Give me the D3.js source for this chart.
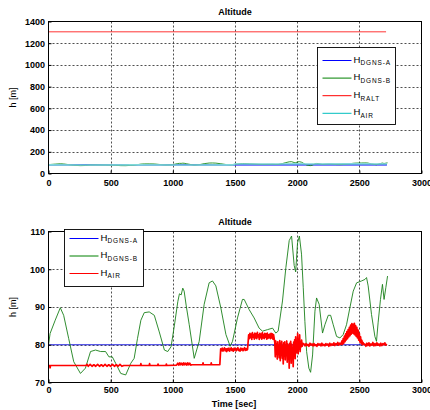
<!DOCTYPE html>
<html><head><meta charset="utf-8">
<script src="https://cdn.jsdelivr.net/npm/d3@7"></script>
<style>body{margin:0;background:#fff} svg{display:block;font-family:"Liberation Sans",Arial,sans-serif}</style>
</head><body><svg id="c" width="430" height="410"></svg>
<script>
// ---------- data ----------
const xTicks = [0, 500, 1000, 1500, 2000, 2500, 3000];
const topYTicks = [0, 200, 400, 600, 800, 1000, 1200, 1400];
const botYTicks = [70, 80, 90, 100, 110];

const dgnsA = [[0, 80], [2722, 80]];
const dgnsB = [[0,80],[13,83],[54,86.5],[95,89.8],[122,87.8],[162,81.7],[203,75.5],[257,72.4],[297,73.8],[338,78.2],[378,78.6],[419,78.2],[459,78.2],[486,76.8],[513,76.8],[540,75.1],[581,72.4],[621,72],[662,75.1],[689,76.4],[716,81.7],[743,86.5],[770,88.5],[810,88.7],[851,87.8],[891,83.4],[932,78.6],[959,78.2],[986,79.5],[1013,85.2],[1040,91.4],[1053,93.5],[1067,93.2],[1080,95],[1091,94.2],[1107,90.5],[1132,85.3],[1172,76.4],[1212,80.9],[1252,90.7],[1292,96.4],[1319,96.9],[1346,95.6],[1386,89.8],[1427,82.7],[1461,79.6],[1480,80.9],[1520,87.1],[1560,92],[1574,92],[1614,89.3],[1654,87.1],[1694,84.4],[1721,83.6],[1761,84],[1802,84.4],[1828,83.1],[1847,83.6],[1882,91.6],[1909,100.4],[1936,107.6],[1955,108.8],[1976,101],[1988,99.3],[2003,107],[2018,108.8],[2035,104],[2049,95.1],[2062,86.2],[2076,78.2],[2094,73.8],[2108,72.7],[2124,77.3],[2143,88.9],[2156,92.4],[2177,90.7],[2204,83.1],[2223,85.3],[2250,87.8],[2269,87.8],[2290,85.3],[2317,82.2],[2344,81.8],[2370,82.7],[2397,85.3],[2424,89.8],[2451,94.2],[2478,96.4],[2518,96.9],[2545,97.3],[2558,97.8],[2571,95.6],[2598,88],[2625,82.2],[2638,80.9],[2651,85.8],[2670,92],[2686,96],[2699,92],[2713,95.1],[2727,98.2]];
const ralt = [[0, 1305], [2715, 1305]];
const airTop = [[0,79],[300,78],[700,79],[1100,78],[1480,79],[1500,88],[1900,87],[2000,90],[2100,87],[2400,89],[2722,88]];

// H_AIR, low-altitude part (sampled points)
const airStart = [[0,74.5],[10,74.5],[13,73.9],[16,74.5],[300,74.5],[310,74.8],[320,74.3],[335,74.8],[350,74.3],[365,74.7],[380,74.3],[395,74.8],[410,74.3],[425,74.7],[440,74.3],[455,74.8],[470,74.3],[485,74.7],[500,74.3],[515,74.8],[530,74.3],[545,74.7],[560,74.3],[575,74.8],[590,74.3],[605,74.5],[740,74.5],[743,75.0],[746,74.5],[810,74.5],[813,75.0],[816,74.5],[878,74.5],[881,74.9],[884,74.5],[945,74.5],[948,74.9],[951,74.5],[1030,74.6],[1040,75.1],[1048,74.6],[1056,75.2],[1064,74.7],[1072,75.1],[1080,74.6],[1088,75.2],[1096,74.7],[1104,75.1],[1112,74.6],[1120,75.2],[1128,74.7],[1136,75.1],[1144,74.6],[1150,74.7],[1240,74.7],[1243,75.2],[1246,74.7],[1306,74.7],[1309,75.2],[1312,74.7],[1378,74.7]];
// H_AIR, uniformly sampled segments afterwards
const airSegStart = [1385, 1610, 1820, 2055, 2360, 2545];
const airSegStep = [6, 5, 4, 8, 5, 8];
const airSegB = [78.9,78.4,79.1,78.3,78.8,79.2,78.4,78.9,78.2,79.0,78.5,79.1,78.3,78.8,79.2,78.5,78.9,78.3,79.1,78.6,79.0,78.4,78.9,79.2,78.5,78.8,78.3,79.1,78.6,79.0,78.4,78.9,79.2,78.5,79.0,78.6,78.8];
const airSegC = [82.6,81.6,83.0,81.9,82.8,81.4,83.2,82.0,82.7,81.5,83.1,81.8,82.9,81.6,83.3,82.1,82.6,81.4,83.0,81.9,82.8,81.5,83.2,81.8,82.7,81.6,83.0,82.0,82.9,81.5,83.1,81.7,82.6,81.9,82.8,81.6,83.0,81.8,82.9,81.5,82.7];
const airSegD = [80.6,76.8,81.0,77.5,80.2,76.2,80.8,77.9,79.4,76.6,81.1,75.8,80.3,77.2,80.9,76.4,79.7,74.9,80.5,77.6,80.8,76.0,79.9,77.3,81.0,75.4,80.2,76.8,79.6,73.8,80.4,76.9,80.9,75.1,80.1,77.4,79.3,74.2,80.7,77.0,81.3,76.3,82.1,77.8,80.6,78.4,83.0,77.6,81.4,78.9,82.6,78.2,80.8,79.4,81.2,79.6,80.4];
const airSegE = [80.2,79.7,80.3,79.8,80.1,79.6,80.4,79.9,80.2,79.7,80.3,79.8,80.0,79.6,80.3,79.9,80.2,79.7,80.4,79.8,80.1,79.7,80.3,79.9,80.2,79.6,80.4,79.8,80.2,79.9,80.5,79.8,80.3,80.0,80.6,79.9,80.4,80.1];
const airSegF = [81.0,80.1,81.6,80.4,82.3,80.8,82.9,81.3,83.5,81.6,84.0,82.1,84.6,82.4,85.2,82.8,85.6,83.1,85.4,82.9,85.7,82.6,85.1,82.2,84.6,81.8,83.9,81.2,83.0,80.7,82.1,80.3,81.2,80.0,80.6,80.1];
const airSegG = [80.2,79.6,80.4,79.8,80.5,79.7,80.2,79.9,80.6,79.7,80.3,79.8,80.5,79.9,80.2,79.7,80.4,79.8,80.3,80.0,80.5,79.9,80.2];

const topLegend = [
  {sub: "DGNS-A", color: "#0000ff"},
  {sub: "DGNS-B", color: "#008000"},
  {sub: "RALT", color: "#ff0000"},
  {sub: "AIR", color: "#00bfbf"}
];
const botLegend = [
  {sub: "DGNS-A", color: "#0000ff"},
  {sub: "DGNS-B", color: "#008000"},
  {sub: "AIR", color: "#ff0000"}
];

// assemble H_AIR series
const airSegs = [airSegB, airSegC, airSegD, airSegE, airSegF, airSegG];
const air = airStart.slice();
airSegs.forEach((seg, i) => seg.forEach((v, j) => air.push([airSegStart[i] + j * airSegStep[i], v])));

// ---------- drawing ----------
const svg = d3.select("#c");
svg.append("rect").attr("width", 430).attr("height", 410).attr("fill", "#fff");

function panel(o) {
  const x = d3.scaleLinear().domain([0, 3000]).range([48.5, 421.5]);
  const y = d3.scaleLinear().domain(o.yDomain).range([o.bottom, o.top]);
  const g = svg.append("g");
  // grid
  g.selectAll(".gx").data(xTicks.slice(1, -1)).join("line")
    .attr("x1", d => Math.round(x(d)) + 0.5).attr("x2", d => Math.round(x(d)) + 0.5)
    .attr("y1", o.top).attr("y2", o.bottom)
    .attr("stroke", "#222").attr("stroke-dasharray", "2,2").attr("stroke-width", 0.8);
  g.selectAll(".gy").data(o.yTicks.slice(1, -1)).join("line")
    .attr("y1", d => Math.round(y(d)) + 0.5).attr("y2", d => Math.round(y(d)) + 0.5)
    .attr("x1", x(0)).attr("x2", x(3000))
    .attr("stroke", "#222").attr("stroke-dasharray", "2,2").attr("stroke-width", 0.8);
  // series
  const line = d3.line().x(d => x(d[0])).y(d => y(d[1]));
  o.series.forEach(s => {
    g.append("path").datum(s.data).attr("d", line).attr("fill", "none")
      .attr("stroke", s.color).attr("stroke-width", s.w).attr("stroke-linejoin", "round");
  });
  // axes
  const ax = g.append("g").attr("transform", `translate(0,${o.bottom})`)
    .call(d3.axisBottom(x).tickValues(xTicks).tickSizeInner(-3).tickSizeOuter(0).tickPadding(o.xPad).tickFormat(d3.format("d")));
  const ay = g.append("g").attr("transform", `translate(${x(0)},0)`)
    .call(d3.axisLeft(y).tickValues(o.yTicks).tickSizeInner(-3).tickSizeOuter(0).tickPadding(3.5).tickFormat(d3.format("d")));
  [ax, ay].forEach(a => {
    a.select(".domain").remove();
    a.selectAll("text").attr("font-family", '"Liberation Sans",Arial,sans-serif')
      .attr("font-size", 9).attr("font-weight", "bold").attr("fill", "#000");
    a.selectAll("line").attr("stroke", "#000");
  });
  // box
  g.append("rect").attr("x", x(0)).attr("y", o.top).attr("width", x(3000) - x(0)).attr("height", o.bottom - o.top)
    .attr("fill", "none").attr("stroke", "#000").attr("stroke-width", 1);
  // title
  g.append("text").attr("x", 235).attr("y", o.top - 7).attr("text-anchor", "middle")
    .attr("font-size", 9).attr("font-weight", "bold").text("Altitude");
  // y label
  g.append("text").attr("transform", `translate(16,${(o.top + o.bottom) / 2}) rotate(-90)`)
    .attr("text-anchor", "middle").attr("font-size", 9).text("h [m]");
  // legend
  const L = o.legend;
  const lg = g.append("g");
  lg.append("rect").attr("x", L.x).attr("y", L.y).attr("width", L.w).attr("height", L.h)
    .attr("fill", "#fff").attr("stroke", "#000").attr("stroke-width", 0.9);
  L.items.forEach((it, i) => {
    const ry = L.row0 + i * L.dy;
    lg.append("line").attr("x1", L.x + 5).attr("x2", L.x + 34).attr("y1", ry).attr("y2", ry)
      .attr("stroke", it.color).attr("stroke-width", 1);
    const t = lg.append("text").attr("x", L.x + 36).attr("y", ry + 2).attr("font-size", 9.5).attr("fill", "#000");
    t.append("tspan").text("H");
    t.append("tspan").attr("dy", 2.8).attr("font-size", 6.5).attr("letter-spacing", 0.9).text(it.sub);
  });
  return {x, y};
}

panel({
  top: 21.5, bottom: 173.5, yDomain: [0, 1400], yTicks: topYTicks, xPad: 6,
  series: [
    {data: dgnsA, color: "#0000ff", w: 1.6},
    {data: dgnsB, color: "#008000", w: 0.8},
    {data: ralt, color: "#ff0000", w: 0.8},
    {data: airTop, color: "#7fd8d8", w: 1.6}
  ],
  legend: {x: 317.5, y: 47.5, w: 78, h: 77, row0: 60.5, dy: 17.6, items: topLegend}
});

panel({
  top: 231.5, bottom: 382.5, yDomain: [70, 110], yTicks: botYTicks, xPad: 4,
  series: [
    {data: dgnsA, color: "#2020e0", w: 1},
    {data: dgnsB, color: "#1a801a", w: 0.9},
    {data: air, color: "#ff0000", w: 1.7}
  ],
  legend: {x: 64.5, y: 229.5, w: 79, h: 57, row0: 238.5, dy: 17.5, items: botLegend}
});

svg.append("text").attr("x", 234).attr("y", 407).attr("text-anchor", "middle")
  .attr("font-size", 9).attr("font-weight", "bold").text("Time [sec]");
</script>
</body></html>
